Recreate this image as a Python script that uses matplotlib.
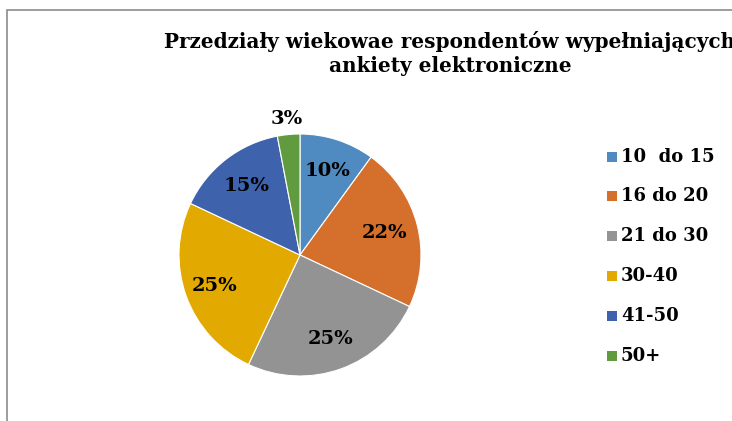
import numpy as np
import matplotlib
matplotlib.use('Agg')
import matplotlib.pyplot as plt
from matplotlib.patches import Rectangle

# data
labels = ['10  do 15', '16 do 20', '21 do 30', '30-40', '41-50', '50+']
shares = [10, 22, 25, 25, 15, 3]
colors = ['#4f8bc1', '#d46f2c', '#939393', '#e2aa00', '#3e62ab', '#619b40']
title = 'Przedziały wiekowae respondentów wypełniających\nankiety elektroniczne'

plt.rcParams['font.family'] = ['DejaVu Serif']
W, H = 732, 421
fig = plt.figure(figsize=(W / 100, H / 100), dpi=100)

# outer chart frame (cut off at right and bottom)
fig.patches.append(Rectangle((7 / W, -0.1), 1.2, 1.1 - 10 / H, transform=fig.transFigure,
                             fill=False, edgecolor='#8c8c8c', lw=1.2))

# pie axes: centre (300,255) px, radius 121 px
cx, cy, r = 300, 255, 121
pad = 1.1
ax = fig.add_axes([(cx - r * pad) / W, (H - cy - r * pad) / H, 2 * r * pad / W, 2 * r * pad / H])
wedges, _ = ax.pie(shares, colors=colors, startangle=90, counterclock=False,
                   wedgeprops=dict(edgecolor='white', linewidth=0.8))
ax.set_xlim(-pad, pad)
ax.set_ylim(-pad, pad)
ax.set_aspect('equal')
ax.axis('off')

# percentage labels
dist = [0.73, 0.72, 0.74, 0.75, 0.72, 1.13]
for w, v, d in zip(wedges, shares, dist):
    ang = np.deg2rad((w.theta1 + w.theta2) / 2)
    ax.text(d * np.cos(ang), d * np.sin(ang), f'{v}%', ha='center', va='center',
            fontsize=14, fontweight='bold', color='black')

# title runs off the right edge, as in the original
fig.text(450 / W, 1 - 54 / H, title, ha='center', va='center', fontsize=14.4,
         fontweight='bold', linespacing=1.25)

# legend
ys = [157, 196, 236, 276, 316, 356]
for lab, c, y in zip(labels, colors, ys):
    fig.patches.append(Rectangle((607 / W, 1 - (y + 5) / H), 10 / W, 10 / H,
                                 transform=fig.transFigure, facecolor=c, edgecolor='none'))
    fig.text(621 / W, 1 - y / H, lab, ha='left', va='center', fontsize=13,
             fontweight='bold')

fig.savefig('out.png', dpi=100)
